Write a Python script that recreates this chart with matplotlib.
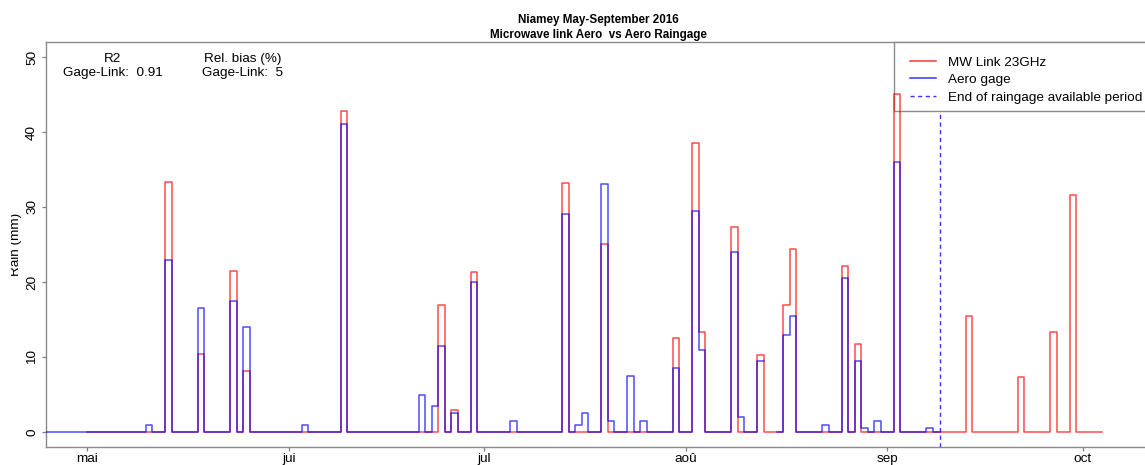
import matplotlib
matplotlib.use("Agg")
import matplotlib.pyplot as plt
import matplotlib.dates as mdates
from matplotlib.transforms import Bbox
from matplotlib.lines import Line2D
from matplotlib.patches import Rectangle
import pandas as pd
import numpy as np

plt.rcParams['font.family'] = ['Liberation Sans', 'DejaVu Sans']

# daily rain (mm); days not listed are dry
link_days = ['2016-05-13', '2016-05-18', '2016-05-23', '2016-05-25', '2016-06-09',
             '2016-06-24', '2016-06-26', '2016-06-29', '2016-07-13', '2016-07-19',
             '2016-07-30', '2016-08-02', '2016-08-03', '2016-08-08', '2016-08-12',
             '2016-08-16', '2016-08-17', '2016-08-25', '2016-08-27', '2016-09-02',
             '2016-09-13', '2016-09-21', '2016-09-26', '2016-09-29']
link_rain = [33.3, 10.4, 21.5, 8.1, 42.8,
             17.0, 2.9, 21.4, 33.2, 25.1,
             12.6, 38.5, 13.3, 27.4, 10.3,
             17.0, 24.4, 22.2, 11.8, 45.0,
             15.5, 7.4, 13.3, 31.6]

gage_days = ['2016-05-10', '2016-05-13', '2016-05-18', '2016-05-23', '2016-05-25',
             '2016-06-03', '2016-06-09', '2016-06-21', '2016-06-23', '2016-06-24',
             '2016-06-26', '2016-06-29', '2016-07-05', '2016-07-13', '2016-07-15',
             '2016-07-16', '2016-07-19', '2016-07-20', '2016-07-23', '2016-07-25',
             '2016-07-30', '2016-08-02', '2016-08-03', '2016-08-08', '2016-08-09',
             '2016-08-12', '2016-08-16', '2016-08-17', '2016-08-22', '2016-08-25',
             '2016-08-27', '2016-08-28', '2016-08-30', '2016-09-02', '2016-09-07']
gage_rain = [1.0, 23.0, 16.5, 17.5, 14.0,
             1.0, 41.0, 5.0, 3.5, 11.5,
             2.5, 20.0, 1.5, 29.0, 1.0,
             2.5, 33.0, 1.5, 7.5, 1.5,
             8.5, 29.5, 11.0, 24.0, 2.0,
             9.5, 13.0, 15.5, 1.0, 20.5,
             9.5, 0.5, 1.5, 36.0, 0.5]
gage_missing = ['2016-08-13', '2016-08-14']

link_period = ('2016-05-01', '2016-10-04')
gage_period = ('2016-04-24', '2016-09-09')

month_ticks = ['2016-05-01', '2016-06-01', '2016-07-01', '2016-08-01', '2016-09-01', '2016-10-01']
month_labels = ['mai', 'jui', 'jul', 'aoû', 'sep', 'oct']


def daily(period, days, rain):
    idx = pd.date_range(*period, freq='D')
    s = pd.Series(0.0, index=idx)
    s[pd.to_datetime(days)] = rain
    return s


link = daily(link_period, link_days, link_rain)
gage = daily(gage_period, gage_days, gage_rain)
gage[pd.to_datetime(gage_missing)] = np.nan

fig = plt.figure(figsize=(11.45, 4.65), dpi=100)
ax = fig.add_axes([46 / 1145, 18 / 465, 1105 / 1145, 405 / 465])

# series drawn above the legend box, the end marker below it
ax.step(link.index, link.values, where='post', color='red', lw=1.1, alpha=0.7, zorder=6)
ax.step(gage.index, gage.values, where='post', color='blue', lw=1.1, alpha=0.7, zorder=7)
gage_end = pd.Timestamp(gage_period[1])
ax.axvline(gage_end, color='blue', lw=1.0, ls=(0, (3, 2.5)), alpha=0.8, zorder=2)

x0 = mdates.date2num(pd.Timestamp('2016-05-01')) - 6.3
x1 = mdates.date2num(pd.Timestamp('2016-10-01')) + 10.5
ax.set_xlim(x0, x1)
ax.set_ylim(-2, 52)

ax.set_xticks(pd.to_datetime(month_ticks))
ax.set_xticklabels(month_labels)
ax.set_yticks([0, 10, 20, 30, 40, 50])
for lab in ax.get_yticklabels():
    lab.set_rotation(90)
    lab.set_va('center')
ax.tick_params(labelsize=9.7, length=3.2, width=0.9, color='#7f7f7f')
ax.tick_params(axis='x', pad=1.0)
ax.tick_params(axis='y', pad=2.5)
for sp in ax.spines.values():
    sp.set_color('#8a8a8a')
    sp.set_linewidth(1.0)

ax.set_title('Niamey May-September 2016\nMicrowave link Aero  vs Aero Raingage',
             fontsize=8.4, fontweight='bold', pad=3, linespacing=1.3)

ax.text(0.0606, 0.957, 'R2', transform=ax.transAxes, ha='center', va='center', fontsize=9.7)
ax.text(0.0606, 0.923, 'Gage-Link:  0.91', transform=ax.transAxes, ha='center', va='center', fontsize=9.7)
ax.text(0.178, 0.957, 'Rel. bias (%)', transform=ax.transAxes, ha='center', va='center', fontsize=9.7)
ax.text(0.178, 0.923, 'Gage-Link:  5', transform=ax.transAxes, ha='center', va='center', fontsize=9.7)

# legend box in the top right corner of the plot
box = Rectangle((0.7674, 0.8296), 0.25, 1 - 0.8296, transform=ax.transAxes,
                facecolor='white', edgecolor='#8a8a8a', lw=1.0, zorder=5, clip_on=False)
ax.add_patch(box)

handles = [Line2D([], [], color='red', lw=1.1, alpha=0.8),
           Line2D([], [], color='blue', lw=1.1, alpha=0.8),
           Line2D([], [], color='blue', lw=1.0, ls=(0, (3, 2.5)), alpha=0.8)]
leg = ax.legend(handles, ['MW Link 23GHz', 'Aero gage', 'End of raingage available period'],
                loc='upper right', bbox_to_anchor=(1 + 6 / 1105, 1), borderaxespad=0, fontsize=9.7,
                frameon=False, borderpad=1.05, labelspacing=0.38, handlelength=1.9,
                handletextpad=0.95)
leg.set_zorder(5.5)

ylab = fig.text(19 / 1145, 1 - 244.5 / 465, 'Rain (mm)', rotation=90, rotation_mode='anchor',
                ha='center', va='baseline', fontsize=9.7)
ylab.set_clip_box(Bbox.from_extents(11, 0, 1145, 465))
ylab.set_clip_on(True)

fig.savefig('out.png', dpi=100)
